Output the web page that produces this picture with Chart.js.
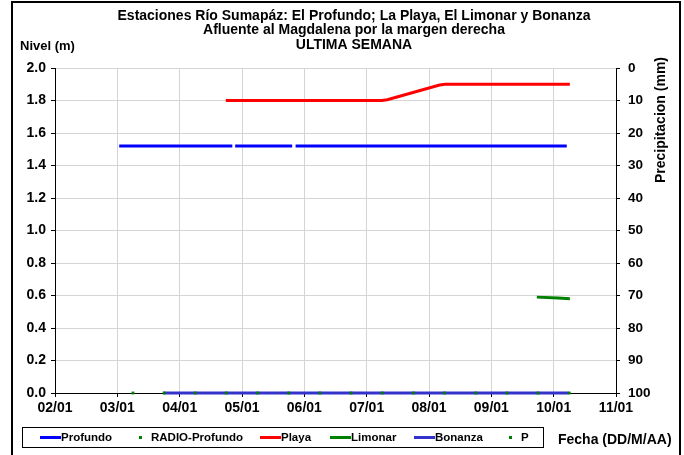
<!DOCTYPE html>
<html>
<head>
<meta charset="utf-8">
<script src="https://cdn.jsdelivr.net/npm/chart.js@4.4.1/dist/chart.umd.min.js"></script>
<style>
  html, body { margin: 0; padding: 0; background: #fff; }
  #wrap { position: relative; width: 684px; height: 455px; }
</style>
</head>
<body>
<div id="wrap"><canvas id="nivelChart"></canvas></div>
<script>
// Títulos y etiquetas
const titleLines = [
  'Estaciones Río Sumapáz: El Profundo; La Playa, El Limonar y Bonanza',
  'Afluente al Magdalena por la margen derecha',
  'ULTIMA SEMANA'
];
const yTitle = 'Nivel (m)';
const y2Title = 'Precipitacion (mm)';
const xTitle = 'Fecha (DD/M/AA)';

// x = día del mes (enero), fraccional
const profundoX = [3.03, 4.845, 4.86, 4.89, 5.805, 5.83, 5.86, 10.21];
const profundoY = [1.52, 1.52, null, 1.52, 1.52, null, 1.52, 1.52];

const radioX = [3.25, 3.75, 4.25, 4.75, 5.25, 5.75, 6.25, 6.75, 7.25, 7.75, 8.25, 8.75, 9.25, 9.75, 10.25];
const radioY = [0, 0, 0, 0, 0, 0, 0, 0, 0, 0, 0, 0, 0, 0, 0];

const playaX = [4.74, 7.24, 7.33, 8.17, 8.26, 10.26];
const playaY = [1.80, 1.80, 1.805, 1.895, 1.90, 1.90];

const limonarX = [9.73, 10.07, 10.26];
const limonarY = [0.59, 0.585, 0.58];

const bonanzaX = [3.74, 10.24];
const bonanzaY = [0, 0];

const pX = [];
const pY = [];

function pts(xs, ys) {
  return xs.map(function(x, i) { return { x: x, y: ys[i] }; });
}

const FONT = '"Liberation Sans", Arial, sans-serif';

// Dibuja títulos, marco y leyenda
const extrasPlugin = {
  id: 'extras',
  afterDraw: function(chart) {
    const ctx = chart.ctx;
    ctx.save();
    ctx.fillStyle = '#000';
    ctx.textBaseline = 'middle';

    ctx.font = 'bold 14px ' + FONT;
    ctx.textAlign = 'center';
    titleLines.forEach(function(t, i) {
      ctx.fillText(t, 354, 16 + i * 14.5);
    });

    ctx.font = 'bold 13px ' + FONT;
    ctx.textAlign = 'left';
    ctx.fillText(yTitle, 20, 46);
    ctx.font = 'bold 14px ' + FONT;
    ctx.fillText(xTitle, 558, 440);

    ctx.save();
    ctx.translate(661, 120);
    ctx.rotate(-Math.PI / 2);
    ctx.textAlign = 'center';
    ctx.fillText(y2Title, 0, 0);
    ctx.restore();

    // marco exterior
    ctx.strokeStyle = '#000';
    ctx.lineWidth = 2;
    ctx.beginPath();
    ctx.moveTo(12, 460);
    ctx.lineTo(12, 2);
    ctx.lineTo(680, 2);
    ctx.lineTo(680, 460);
    ctx.stroke();

    // leyenda
    ctx.lineWidth = 1;
    ctx.strokeRect(22.5, 427.5, 521, 20);
    const itemX = [40, 130, 260, 330, 414, 500];
    const ly = 437.5;
    ctx.font = 'bold 11.5px ' + FONT;
    chart.data.datasets.forEach(function(ds, i) {
      const x0 = itemX[i];
      if (ds.showLine === false) {
        ctx.fillStyle = ds.pointBackgroundColor;
        ctx.fillRect(x0 + 9, ly - 1.5, 3, 3);
      } else {
        ctx.strokeStyle = ds.borderColor;
        ctx.lineWidth = 3;
        ctx.beginPath();
        ctx.moveTo(x0, ly);
        ctx.lineTo(x0 + 21, ly);
        ctx.stroke();
      }
      ctx.fillStyle = '#000';
      ctx.fillText(ds.label, x0 + 21, ly);
    });
    ctx.restore();
  }
};

const ctx = document.getElementById('nivelChart').getContext('2d');
new Chart(ctx, {
  type: 'line',
  data: {
    datasets: [
      {
        label: 'Profundo',
        data: pts(profundoX, profundoY),
        borderColor: '#0000ff',
        borderWidth: 3,
        pointRadius: 0,
        spanGaps: false,
        order: 1
      },
      {
        label: 'RADIO-Profundo',
        data: pts(radioX, radioY),
        showLine: false,
        pointStyle: 'rect',
        pointRadius: 2,
        pointBorderWidth: 0,
        pointBackgroundColor: '#008000',
        borderColor: '#008000',
        clip: false,
        order: -1
      },
      {
        label: 'Playa',
        data: pts(playaX, playaY),
        borderColor: '#ff0000',
        borderWidth: 3,
        pointRadius: 0,
        order: 1
      },
      {
        label: 'Limonar',
        data: pts(limonarX, limonarY),
        borderColor: '#008000',
        borderWidth: 3,
        pointRadius: 0,
        order: 1
      },
      {
        label: 'Bonanza',
        data: pts(bonanzaX, bonanzaY),
        borderColor: '#3333cc',
        borderWidth: 3,
        pointRadius: 0,
        clip: 5,
        order: 1
      },
      {
        label: 'P',
        data: pts(pX, pY),
        yAxisID: 'y2',
        showLine: false,
        pointStyle: 'rect',
        pointRadius: 2,
        pointBorderWidth: 0,
        pointBackgroundColor: '#008000',
        borderColor: '#008000',
        order: 1
      }
    ]
  },
  options: {
    responsive: true,
    maintainAspectRatio: false,
    animation: false,
    layout: { padding: { top: 68, left: 0, right: 0, bottom: 0 } },
    plugins: {
      legend: { display: false },
      title: { display: false },
      tooltip: { enabled: false }
    },
    scales: {
      x: {
        type: 'linear',
        min: 2,
        max: 11,
        afterFit: function(s) { s.height = 62; },
        ticks: {
          stepSize: 1,
          padding: 3,
          color: '#000',
          font: { family: FONT, size: 14, weight: 'bold' },
          maxRotation: 0,
          callback: function(v) { return String(v).padStart(2, '0') + '/01'; }
        },
        grid: { color: '#d4d4d4', tickColor: '#000', tickLength: 4 },
        border: { color: '#000', width: 1 }
      },
      y: {
        position: 'left',
        min: 0,
        max: 2,
        afterFit: function(s) { s.width = 55; },
        ticks: {
          stepSize: 0.2,
          padding: 5,
          color: '#000',
          font: { family: FONT, size: 14, weight: 'bold' },
          callback: function(v) { return v.toFixed(1); }
        },
        grid: { color: '#d4d4d4', tickColor: '#000', tickLength: 4 },
        border: { color: '#000', width: 1 }
      },
      y2: {
        position: 'right',
        min: 0,
        max: 100,
        reverse: true,
        afterFit: function(s) { s.width = 68; },
        ticks: {
          stepSize: 10,
          padding: 8,
          color: '#000',
          font: { family: FONT, size: 13.5, weight: 'bold' }
        },
        grid: { drawOnChartArea: false, tickColor: '#000', tickLength: 4 },
        border: { color: '#000', width: 1 }
      }
    }
  },
  plugins: [extrasPlugin]
});
</script>
</body>
</html>
